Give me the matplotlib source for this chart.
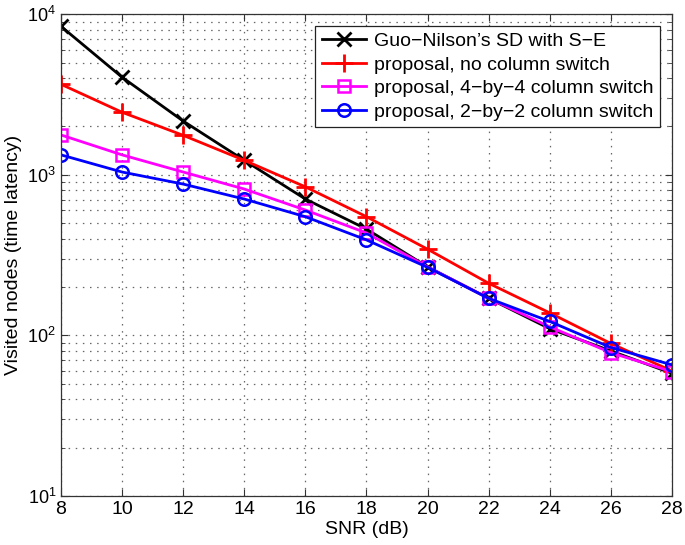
import matplotlib
matplotlib.use("Agg")
import matplotlib.pyplot as plt
from matplotlib.ticker import LogLocator, FixedLocator

plt.rcParams['font.family'] = ['Liberation Sans', 'DejaVu Sans']

snr = [8, 10, 12, 14, 16, 18, 20, 22, 24, 26, 28]
guo = [8400, 4050, 2160, 1230, 706, 459, 267, 170, 110, 80, 58]
no_switch = [3660, 2450, 1760, 1230, 841, 548, 344, 211, 138, 89, 60]
sw44 = [1770, 1330, 1040, 815, 603, 434, 267, 170, 113, 78, 59.4]
sw22 = [1330, 1040, 875, 706, 548, 393, 265, 170, 122, 84, 65.5]

labels = ["Guo\u2212Nilson\u2019s SD with S\u2212E",
          "proposal, no column switch",
          "proposal, 4\u2212by\u22124 column switch",
          "proposal, 2\u2212by\u22122 column switch"]

fig = plt.figure(figsize=(6.85, 5.45), dpi=100)
ax = fig.add_axes([0.089, 0.090, 0.892, 0.884])

lw = 2.0
ax.plot(snr, guo, color='black', marker='x', ms=10, mew=2, lw=lw, label=labels[0])
ax.plot(snr, no_switch, color='red', marker='+', ms=13, mew=2, lw=lw, label=labels[1])
ax.plot(snr, sw44, color='magenta', marker='s', ms=9, mew=1.8, mfc='none', lw=lw, label=labels[2])
ax.plot(snr, sw22, color='blue', marker='o', ms=9, mew=1.8, mfc='none', lw=lw, label=labels[3])

ax.set_yscale('log')
ax.set_xlim(8, 28)
ax.set_ylim(10, 1e4)
ax.xaxis.set_major_locator(FixedLocator(snr))
ax.yaxis.set_major_locator(LogLocator(base=10, numticks=10))
ax.yaxis.set_minor_locator(LogLocator(base=10, subs=range(2, 10), numticks=20))
grid_ls = (0, (1.2, 4.5))
ax.grid(True, which='major', linestyle=grid_ls, color='#666666', lw=0.9)
ax.grid(True, which='minor', axis='y', linestyle=grid_ls, color='#666666', lw=0.9)
ax.set_axisbelow(True)
ax.tick_params(which='both', direction='in', top=True, right=True, labelsize=14,
               color='#333333')
ax.tick_params(which='major', length=5)
ax.tick_params(which='minor', length=3)
ax.tick_params(axis='y', labelsize=13)
for s in ax.spines.values():
    s.set_linewidth(0.9)
    s.set_color('#333333')

ax.set_xlabel("SNR (dB)", fontsize=14, labelpad=2)
ax.set_ylabel("Visited nodes (time latency)", fontsize=14, labelpad=4)

leg = ax.legend(loc='upper right', fontsize=14, fancybox=False, framealpha=1,
                edgecolor='#222222', borderaxespad=0.6, handlelength=2.3,
                labelspacing=0.3, borderpad=0.35, handletextpad=0.4)
leg.get_frame().set_linewidth(0.9)

fig.savefig("out.png", dpi=100)
